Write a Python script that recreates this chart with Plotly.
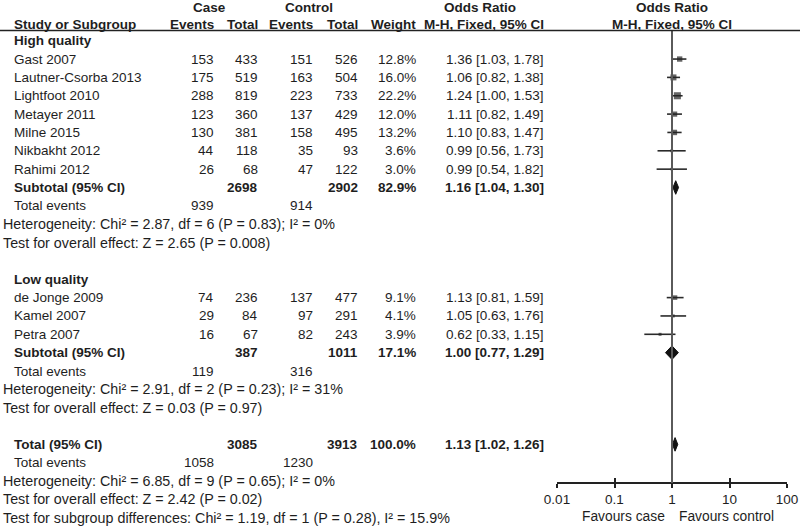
import math
import plotly.graph_objects as go

W, H = 800, 530
ROW0, PITCH = 40.7, 18.35          # pixel centre of first body row, row spacing
FONT = "Liberation Sans, Arial, sans-serif"
INK = "#1e1e1e"
FS = 13.5
FS_STAT = 14.3

# ---- High quality subgroup ----
hq_study = ["Gast 2007", "Lautner-Csorba 2013", "Lightfoot 2010", "Metayer 2011",
            "Milne 2015", "Nikbakht 2012", "Rahimi 2012"]
hq_case_ev = [153, 175, 288, 123, 130, 44, 26]
hq_case_tot = [433, 519, 819, 360, 381, 118, 68]
hq_ctrl_ev = [151, 163, 223, 137, 158, 35, 47]
hq_ctrl_tot = [526, 504, 733, 429, 495, 93, 122]
hq_weight = [12.8, 16.0, 22.2, 12.0, 13.2, 3.6, 3.0]
hq_or = [1.36, 1.06, 1.24, 1.11, 1.10, 0.99, 0.99]
hq_lo = [1.03, 0.82, 1.00, 0.82, 0.83, 0.56, 0.54]
hq_hi = [1.78, 1.38, 1.53, 1.49, 1.47, 1.73, 1.82]
hq_sub_tot = [2698, 2902]
hq_sub_weight = 82.9
hq_sub_or = [1.16, 1.04, 1.30]
hq_events = [939, 914]
hq_het = "Heterogeneity: Chi² = 2.87, df = 6 (P = 0.83); I² = 0%"
hq_z = "Test for overall effect: Z = 2.65 (P = 0.008)"

# ---- Low quality subgroup ----
lq_study = ["de Jonge 2009", "Kamel 2007", "Petra 2007"]
lq_case_ev = [74, 29, 16]
lq_case_tot = [236, 84, 67]
lq_ctrl_ev = [137, 97, 82]
lq_ctrl_tot = [477, 291, 243]
lq_weight = [9.1, 4.1, 3.9]
lq_or = [1.13, 1.05, 0.62]
lq_lo = [0.81, 0.63, 0.33]
lq_hi = [1.59, 1.76, 1.15]
lq_sub_tot = [387, 1011]
lq_sub_weight = 17.1
lq_sub_or = [1.00, 0.77, 1.29]
lq_events = [119, 316]
lq_het = "Heterogeneity: Chi² = 2.91, df = 2 (P = 0.23); I² = 31%"
lq_z = "Test for overall effect: Z = 0.03 (P = 0.97)"

# ---- Overall ----
all_tot = [3085, 3913]
all_weight = 100.0
all_or = [1.13, 1.02, 1.26]
all_events = [1058, 1230]
all_het = "Heterogeneity: Chi² = 6.85, df = 9 (P = 0.65); I² = 0%"
all_z = "Test for overall effect: Z = 2.42 (P = 0.02)"
subgroup_diff = "Test for subgroup differences: Chi² = 1.19, df = 1 (P = 0.28), I² = 15.9%"

ticks = [0.01, 0.1, 1, 10, 100]
tick_text = ["0.01", "0.1", "1", "10", "100"]

# column positions (pixels)
X_LABEL, X_STAT = 12, 1
X_CASE_EV, X_CASE_TOT, X_CTRL_EV, X_CTRL_TOT, X_WEIGHT, X_OR = 216, 260, 315, 360, 418, 546
PLOT_L, PLOT_R = 557, 787
AXIS_Y = 483


def row_of(px):
    return (px - ROW0) / PITCH


fig = go.Figure()


def txt(x, r, s, anchor="left", bold=False, size=FS):
    fig.add_annotation(x=x / W, y=r, xref="paper", yref="y",
                       text=f"<b>{s}</b>" if bold else str(s),
                       xanchor=anchor, yanchor="middle", showarrow=False,
                       font=dict(family=FONT, size=size, color=INK))


def fmt_or(o, l, h):
    return f"{o:.2f} [{l:.2f}, {h:.2f}]"


# header
h1, h2 = row_of(7), row_of(24)
txt(209, h1, "Case", "center", True)
txt(309, h1, "Control", "center", True)
txt(480, h1, "Odds Ratio", "center", True)
txt(672, h1, "Odds Ratio", "center", True)
txt(X_LABEL, h2, "Study or Subgroup", bold=True)
txt(X_CASE_EV, h2, "Events", "right", True)
txt(X_CASE_TOT, h2, "Total", "right", True)
txt(X_CTRL_EV, h2, "Events", "right", True)
txt(X_CTRL_TOT, h2, "Total", "right", True)
txt(X_WEIGHT, h2, "Weight", "right", True)
txt(X_OR, h2, "M-H, Fixed, 95% CI", "right", True)
txt(672, h2, "M-H, Fixed, 95% CI", "center", True)

ci_x, ci_y, sq_x, sq_y, sq_s = [], [], [], [], []
diamonds = []


def subgroup(r, title, study, cev, ctot, tev, ttot, wt, orr, lo, hi,
             sub_tot, sub_w, sub_or, events, het, z):
    txt(X_LABEL, r, title, bold=True)
    r += 1
    for i in range(len(study)):
        txt(X_LABEL, r, study[i])
        txt(X_CASE_EV, r, cev[i], "right")
        txt(X_CASE_TOT, r, ctot[i], "right")
        txt(X_CTRL_EV, r, tev[i], "right")
        txt(X_CTRL_TOT, r, ttot[i], "right")
        txt(X_WEIGHT, r, f"{wt[i]:.1f}%", "right")
        txt(X_OR, r, fmt_or(orr[i], lo[i], hi[i]), "right")
        ci_x.extend([lo[i], hi[i], None])
        ci_y.extend([r, r, None])
        sq_x.append(orr[i])
        sq_y.append(r)
        sq_s.append(1.5 * math.sqrt(wt[i]))
        r += 1
    txt(X_LABEL, r, "Subtotal (95% CI)", bold=True)
    txt(X_CASE_TOT, r, sub_tot[0], "right", True)
    txt(X_CTRL_TOT, r, sub_tot[1], "right", True)
    txt(X_WEIGHT, r, f"{sub_w:.1f}%", "right", True)
    txt(X_OR, r, fmt_or(*sub_or), "right", True)
    diamonds.append((r, sub_or))
    r += 1
    txt(X_LABEL, r, "Total events")
    txt(X_CASE_EV, r, events[0], "right")
    txt(X_CTRL_EV, r, events[1], "right")
    r += 1
    txt(X_STAT, r, het, size=FS_STAT)
    r += 1
    txt(X_STAT, r, z, size=FS_STAT)
    return r + 2


r = subgroup(0, "High quality", hq_study, hq_case_ev, hq_case_tot, hq_ctrl_ev, hq_ctrl_tot,
             hq_weight, hq_or, hq_lo, hq_hi, hq_sub_tot, hq_sub_weight, hq_sub_or,
             hq_events, hq_het, hq_z)
r = subgroup(r, "Low quality", lq_study, lq_case_ev, lq_case_tot, lq_ctrl_ev, lq_ctrl_tot,
             lq_weight, lq_or, lq_lo, lq_hi, lq_sub_tot, lq_sub_weight, lq_sub_or,
             lq_events, lq_het, lq_z)

txt(X_LABEL, r, "Total (95% CI)", bold=True)
txt(X_CASE_TOT, r, all_tot[0], "right", True)
txt(X_CTRL_TOT, r, all_tot[1], "right", True)
txt(X_WEIGHT, r, f"{all_weight:.1f}%", "right", True)
txt(X_OR, r, fmt_or(*all_or), "right", True)
diamonds.append((r, all_or))
txt(X_LABEL, r + 1, "Total events")
txt(X_CASE_EV, r + 1, all_events[0], "right")
txt(X_CTRL_EV, r + 1, all_events[1], "right")
txt(X_STAT, r + 2, all_het, size=FS_STAT)
txt(X_STAT, r + 3, all_z, size=FS_STAT)
txt(X_STAT, r + 4, subgroup_diff, size=FS_STAT)

# Favours labels under the axis
fav = row_of(516)
txt(667, fav, "Favours case", "right", size=13.8)
txt(677, fav, "Favours control", "left", size=13.8)

# reference line at OR = 1 and header rule
fig.add_shape(type="line", xref="x", yref="y", x0=1, x1=1, y0=row_of(30), y1=row_of(AXIS_Y),
              line=dict(color="#5a5a5a", width=2))
fig.add_shape(type="line", xref="paper", yref="y", x0=0, x1=1, y0=row_of(30.5), y1=row_of(30.5),
              line=dict(color="#222", width=1.5))

# confidence intervals and study squares
fig.add_trace(go.Scatter(x=ci_x, y=ci_y, mode="lines",
                         line=dict(color="#2a2a2a", width=1.6), hoverinfo="skip"))
fig.add_trace(go.Scatter(x=sq_x, y=sq_y, mode="markers",
                         marker=dict(symbol="square", size=sq_s, color="#222",
                                     line=dict(width=0)), hoverinfo="skip"))

# pooled diamonds
DH = 0.37
for rr, (est, lo, hi) in diamonds:
    fig.add_trace(go.Scatter(x=[lo, est, hi, est, lo], y=[rr, rr - DH, rr, rr + DH, rr],
                             mode="lines", fill="toself", fillcolor="#111",
                             line=dict(color="#111", width=1), hoverinfo="skip"))

# invisible trace so the inside-tick axis is drawn
fig.add_trace(go.Scatter(x=[1], y=[0], xaxis="x2", mode="markers",
                         marker=dict(opacity=0), hoverinfo="skip"))

pos = 1 - AXIS_Y / H
dom = [PLOT_L / W, PLOT_R / W]
fig.update_layout(
    width=W, height=H, showlegend=False,
    margin=dict(l=0, r=0, t=0, b=0),
    paper_bgcolor="white", plot_bgcolor="white",
    font=dict(family=FONT, size=FS, color=INK),
    xaxis=dict(type="log", range=[-2, 2], domain=dom, anchor="free", position=pos,
               showline=True, linecolor="#222", linewidth=1.6,
               ticks="outside", ticklen=4, tickwidth=1.6, tickcolor="#222",
               tickvals=ticks, ticktext=tick_text, tickfont=dict(size=13.5, color=INK),
               showgrid=False, zeroline=False, automargin=False, fixedrange=True),
    xaxis2=dict(type="log", range=[-2, 2], domain=dom, anchor="free", position=pos,
                overlaying="x", ticks="inside", ticklen=5, tickwidth=1.6, tickcolor="#222",
                tickvals=ticks, showticklabels=False, showline=False,
                showgrid=False, zeroline=False, automargin=False),
    yaxis=dict(range=[row_of(H), row_of(0)], domain=[0, 1], visible=False,
               showgrid=False, zeroline=False, fixedrange=True),
)

# the page body has a default 8px margin; drop it so the figure fills the window
fig.write_html("out.html", config={"displayModeBar": False},
               post_script="document.body.style.margin='0';document.body.style.overflow='hidden';")
